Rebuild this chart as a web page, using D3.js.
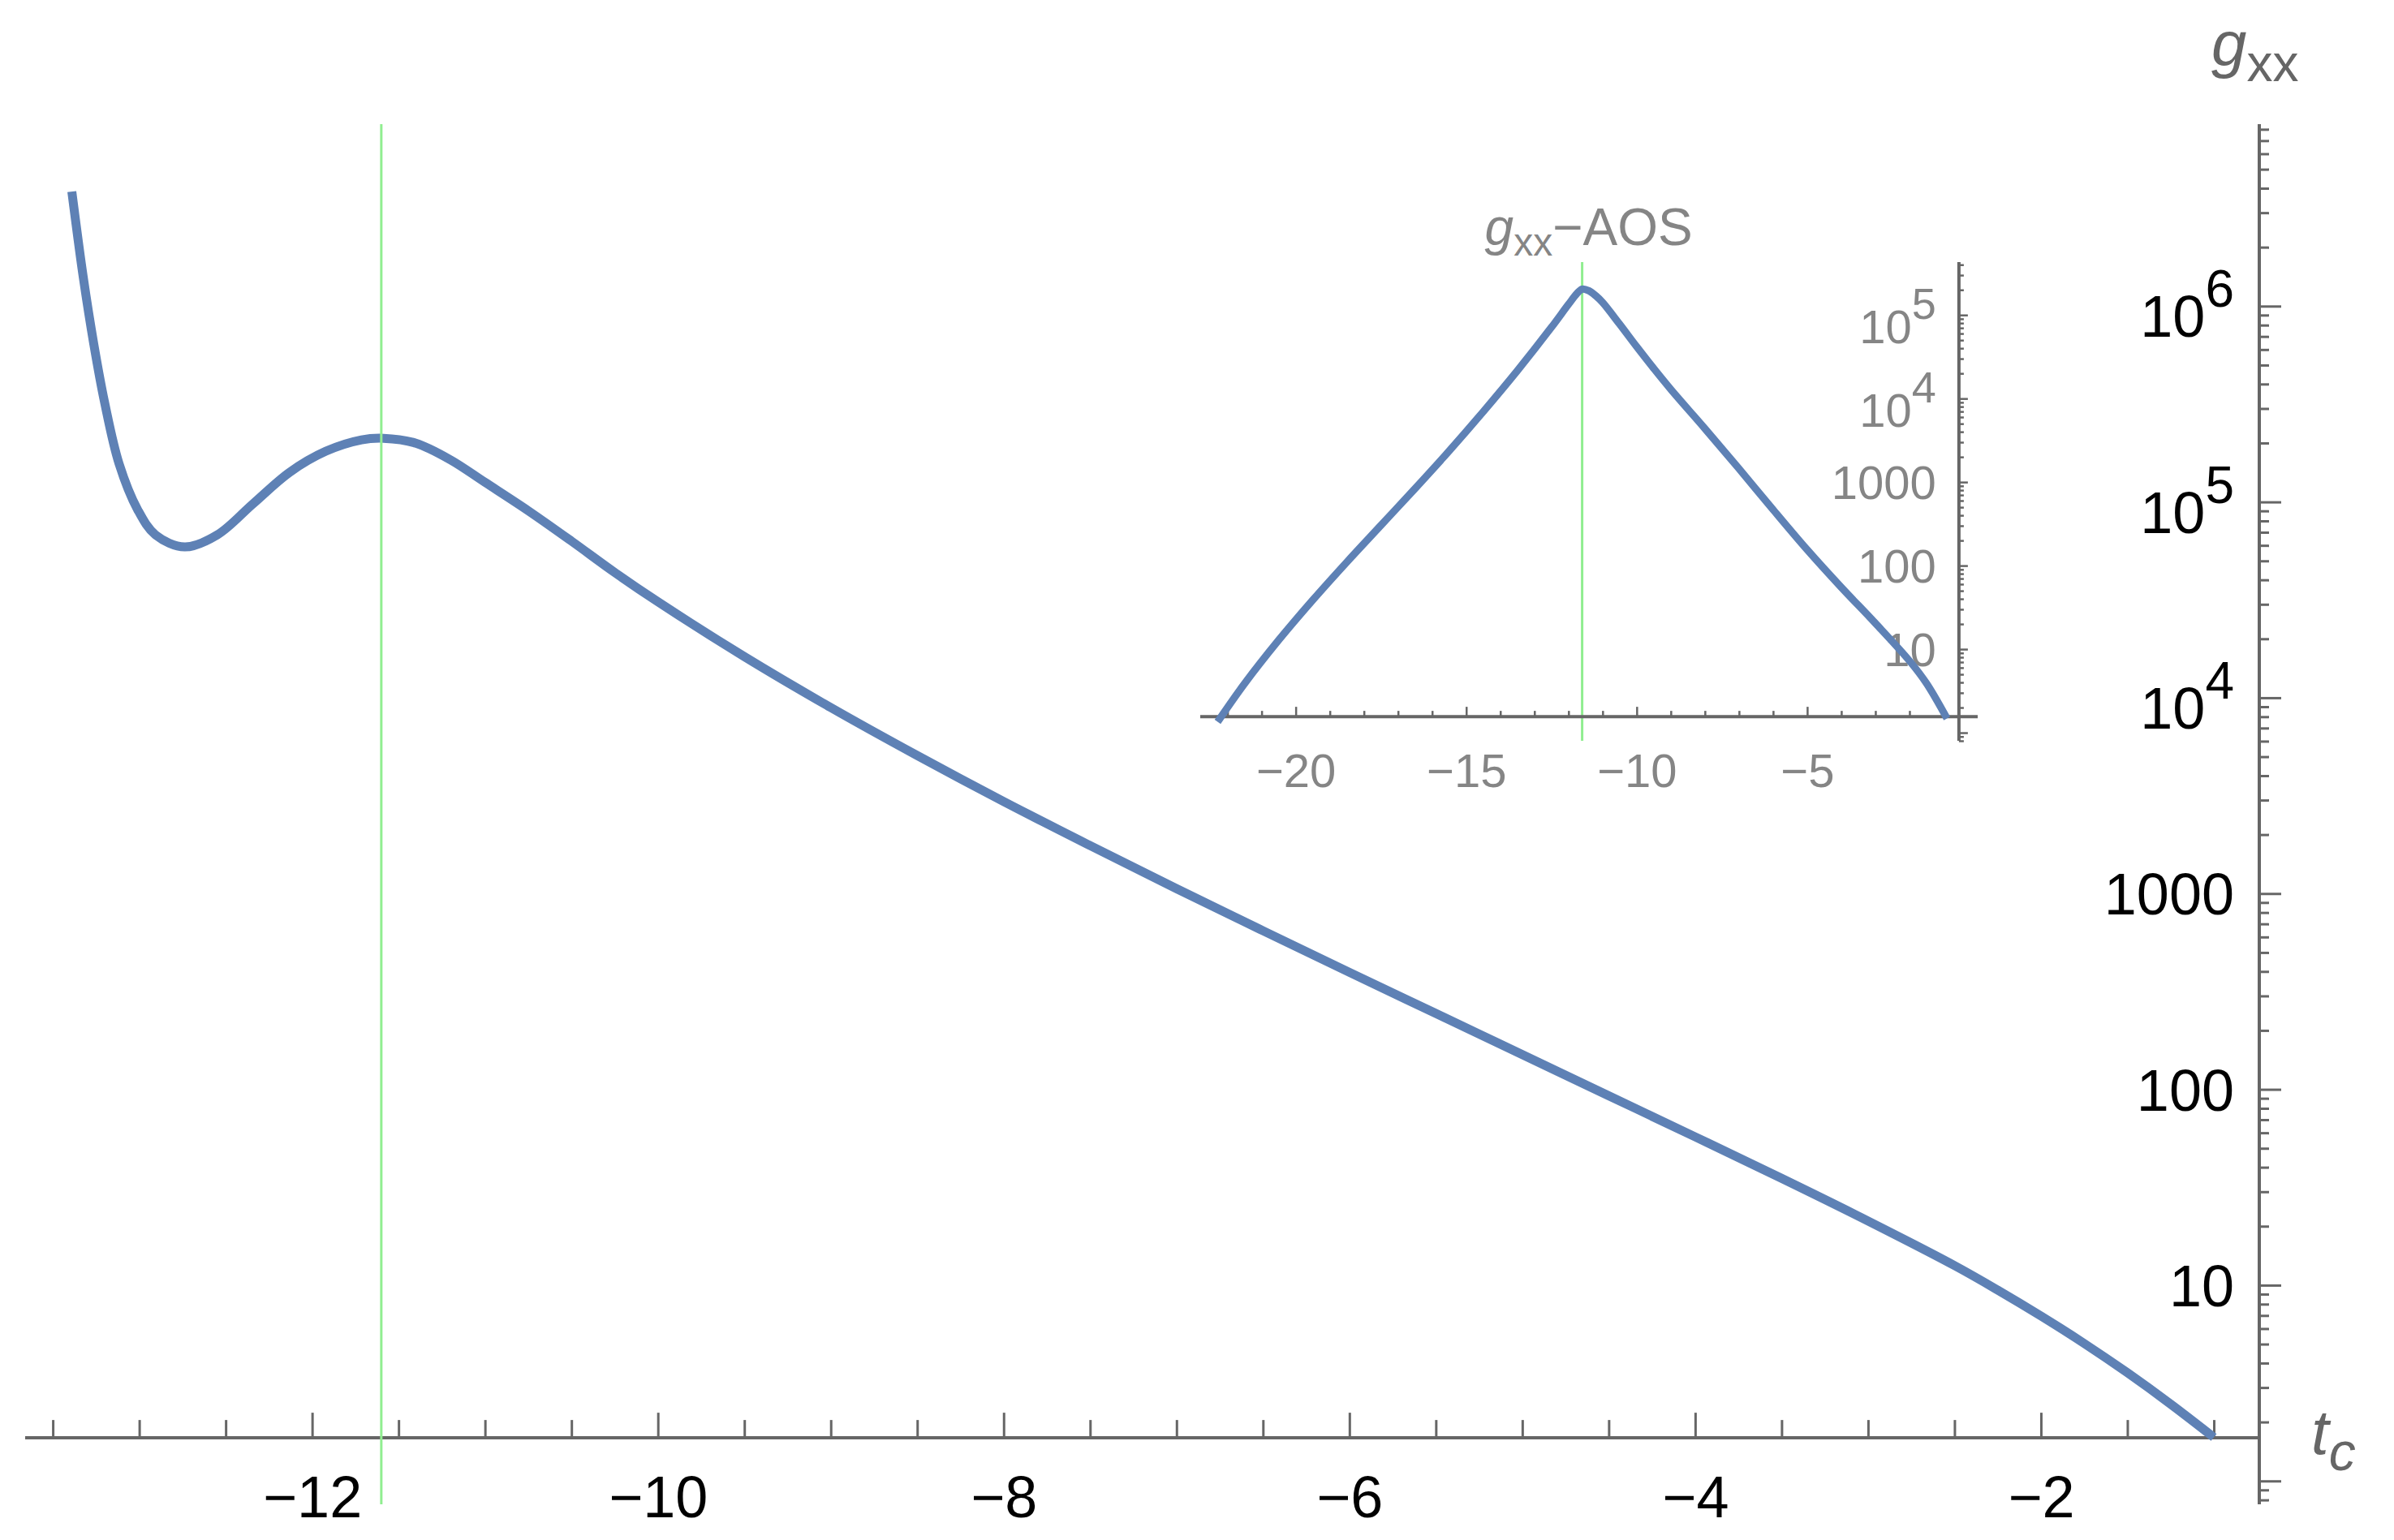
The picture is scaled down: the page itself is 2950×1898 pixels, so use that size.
<!DOCTYPE html>
<html>
<head>
<meta charset="utf-8">
<script src="https://cdn.jsdelivr.net/npm/d3@7"></script>
<style>
  body { margin: 0; background: #fff; }
  text { font-family: "Liberation Sans", Arial, sans-serif; }
</style>
</head>
<body>
<script>

// main curve g_xx(t_c)
var mainT = [-13.39, -13.324, -13.263, -13.202, -13.117, -13.009, -12.906, -12.737, -12.549, -12.343,
             -12.131, -11.92, -11.714, -11.587, -11.4, -11.2, -11.0, -10.75, -10.5, -10.25,
             -10.0, -9.5, -9.0, -8.5, -8.0, -7.5, -7.0, -6.5, -6.0, -5.5,
             -5.0, -4.5, -4.0, -3.5, -3.0, -2.5, -2.25, -2.0, -1.75, -1.5, -1.25, -1.0];
var mainG = [3.846e6, 1.406e6, 6.397e5, 3.273e5, 1.570e5, 9.12e4, 6.79e4, 5.89e4, 6.79e4, 9.77e4,
             1.416e5, 1.816e5, 2.075e5, 2.113e5, 1.995e5, 1.641e5, 1.259e5, 9.02e4, 6.31e4, 4.365e4,
             30900, 16220, 8913, 5070, 2951, 1758, 1059, 645.7, 395.9, 244.1,
             150.5, 92.8, 57.2, 35.1, 21.26, 12.59, 9.44, 6.96, 5.04, 3.57, 2.47, 1.67];

// inset curve g_xx-AOS
var insetT = [-22.29, -21.5, -20.5, -19.5, -18.5, -17.5, -16.5, -15.5, -14.5, -13.5,
              -12.5, -12.0, -11.75, -11.6, -11.4, -11.2, -11.0, -10.5, -10.0, -9.5,
              -9.0, -8.0, -7.0, -6.0, -5.0, -4.0, -3.0, -2.0, -1.5, -0.9];
var insetG = [1.349, 3.87, 12.82, 38.73, 110.4, 304.1, 837.5, 2360, 6966, 21530,
              71290, 134300, 181100, 204200, 195000, 169800, 141300, 77620, 41690, 22910,
              12880, 4365, 1445, 467.7, 154.9, 54.95, 20.42, 7.24, 3.89, 1.479];

var markT = -11.6;   // green marker line

var mainXMajor = [-12, -10, -8, -6, -4, -2];
var mainYMajor = [10, 100, 1000, 1e4, 1e5, 1e6];
var insetXMajor = [-20, -15, -10, -5];
var insetYMajor = [10, 100, 1000, 1e4, 1e5];

var width = 2950, height = 1898;
var axisColor = "#666", curveColor = "#5e81b5", green = "#90ee90";

var svg = d3.select("body").append("svg")
    .attr("width", width)
    .attr("height", height)
    .style("background", "#fff");

// ---------- main plot ----------
var x = d3.scaleLinear().domain([-13.66, -0.737]).range([31, 2784]);
var y = d3.scaleLog().domain([0.76, 8.5e6]).range([1854, 153]);
var xCross = 1.66;   // g value where the t axis sits
var yCrossT = -0.737;

var xa = y(xCross), ya = x(yCrossT);

// minor / major x ticks
var xMinor = d3.range(-13.5, -0.9, 0.5).filter(function(d) { return mainXMajor.indexOf(d) < 0; });

var gx = svg.append("g").attr("transform", "translate(0," + xa + ")");
gx.append("g").call(d3.axisBottom(x).tickValues(xMinor).tickSizeInner(-22).tickSizeOuter(0).tickFormat(""));
gx.append("g").call(d3.axisBottom(x).tickValues(mainXMajor).tickSizeInner(-31).tickSizeOuter(0)
    .tickPadding(47).tickFormat(function(d) { return "\u2212" + Math.abs(d); }));
gx.selectAll(".domain").remove();
gx.selectAll("line").attr("stroke", axisColor).attr("stroke-width", 3);
gx.selectAll("text").attr("font-size", 72).attr("fill", "#000")
    .attr("font-family", "Liberation Sans, Arial, sans-serif");
gx.append("line").attr("x1", x.range()[0]).attr("x2", ya)
    .attr("stroke", axisColor).attr("stroke-width", 4);

// y ticks
var yMinor = y.ticks().filter(function(d) { return mainYMajor.indexOf(d) < 0 && Math.abs(Math.log10(d) % 1) > 1e-6; });
var gy = svg.append("g").attr("transform", "translate(" + ya + ",0)");
gy.append("g").call(d3.axisLeft(y).tickValues(yMinor).tickSizeInner(-12).tickSizeOuter(0).tickFormat(""));
gy.append("g").call(d3.axisLeft(y).tickValues([1].concat(mainYMajor)).tickSizeInner(-27).tickSizeOuter(0).tickFormat(""));
gy.selectAll(".domain").remove();
gy.selectAll("line").attr("stroke", axisColor).attr("stroke-width", 3);
gy.append("line").attr("y1", y.range()[0]).attr("y2", y.range()[1])
    .attr("stroke", axisColor).attr("stroke-width", 4);

function logLabels(g, vals, ys, lx, fs, efs, plain, base, raise, color) {
  g.selectAll("text.lab").data(vals).join("text")
    .attr("class", "lab")
    .attr("x", lx)
    .attr("text-anchor", "end")
    .attr("font-size", fs)
    .attr("fill", color)
    .attr("y", function(d) { return ys(d) + (d >= 1e4 ? base : plain); })
    .each(function(d) {
      var s = d3.select(this);
      if (d >= 1e4) {
        s.append("tspan").text("10");
        s.append("tspan").attr("dy", -raise).attr("font-size", efs).text(Math.round(Math.log10(d)));
      } else {
        s.text(d);
      }
    });
}
logLabels(svg.append("g"), mainYMajor, y, ya - 31, 72, 64, 26, 38, 37, "#000");

// axis labels
var lg = svg.append("text").attr("x", ya - 59).attr("y", 81).attr("fill", axisColor);
lg.append("tspan").attr("font-style", "italic").attr("font-size", 78).text("g");
lg.append("tspan").attr("font-size", 64).attr("dy", 19).text("xx");

var lt = svg.append("text").attr("x", ya + 64).attr("y", 1792).attr("fill", axisColor);
lt.append("tspan").attr("font-style", "italic").attr("font-size", 78).text("t");
lt.append("tspan").attr("font-style", "italic").attr("font-size", 66).attr("dy", 20).text("c");

var line = d3.line()
    .x(function(d) { return x(d[0]); })
    .y(function(d) { return y(d[1]); })
    .curve(d3.curveCatmullRom.alpha(0.5));

svg.append("path")
    .datum(d3.zip(mainT, mainG))
    .attr("d", line)
    .attr("fill", "none")
    .attr("stroke", curveColor)
    .attr("stroke-width", 11)
    .attr("stroke-linejoin", "round");

svg.append("line")
    .attr("x1", x(markT)).attr("x2", x(markT))
    .attr("y1", y.range()[1]).attr("y2", y.range()[0])
    .attr("stroke", green).attr("stroke-width", 3);

// ---------- inset ----------
var xi = d3.scaleLinear().domain([-22.8, 0]).range([1479, 2437]);
var yi = d3.scaleLog().domain([0.8, 4.3e5]).range([913, 323]);
var xiCross = 1.56, yiCrossT = -0.55;
var xia = yi(xiCross), yia = xi(yiCrossT);

svg.append("line")
    .attr("x1", xi(markT)).attr("x2", xi(markT))
    .attr("y1", yi.range()[1]).attr("y2", yi.range()[0])
    .attr("stroke", green).attr("stroke-width", 3);

var xiMinor = d3.range(-22, 0, 1).filter(function(d) { return insetXMajor.indexOf(d) < 0; });
var gxi = svg.append("g").attr("transform", "translate(0," + xia + ")");
gxi.append("g").call(d3.axisBottom(xi).tickValues(xiMinor).tickSizeInner(-7).tickSizeOuter(0).tickFormat(""));
gxi.append("g").call(d3.axisBottom(xi).tickValues(insetXMajor).tickSizeInner(-12).tickSizeOuter(0)
    .tickPadding(46).tickFormat(function(d) { return "\u2212" + Math.abs(d); }));
gxi.selectAll(".domain").remove();
gxi.selectAll("line").attr("stroke", axisColor).attr("stroke-width", 2.5);
gxi.selectAll("text").attr("font-size", 58).attr("fill", "#858585")
    .attr("font-family", "Liberation Sans, Arial, sans-serif");
gxi.append("line").attr("x1", xi.range()[0]).attr("x2", xi.range()[1])
    .attr("stroke", axisColor).attr("stroke-width", 4);

var yiMinor = yi.ticks().filter(function(d) { return insetYMajor.indexOf(d) < 0 && Math.abs(Math.log10(d) % 1) > 1e-6; });
var gyi = svg.append("g").attr("transform", "translate(" + yia + ",0)");
gyi.append("g").call(d3.axisLeft(yi).tickValues(yiMinor).tickSizeInner(-6).tickSizeOuter(0).tickFormat(""));
gyi.append("g").call(d3.axisLeft(yi).tickValues([1].concat(insetYMajor)).tickSizeInner(-11).tickSizeOuter(0).tickFormat(""));
gyi.selectAll(".domain").remove();
gyi.selectAll("line").attr("stroke", axisColor).attr("stroke-width", 2.5);
gyi.append("line").attr("y1", yi.range()[0]).attr("y2", yi.range()[1])
    .attr("stroke", axisColor).attr("stroke-width", 4);

logLabels(svg.append("g"), insetYMajor, yi, yia - 28, 58, 54, 21, 35, 30, "#858585");

var iline = d3.line()
    .x(function(d) { return xi(d[0]); })
    .y(function(d) { return yi(d[1]); })
    .curve(d3.curveCatmullRom.alpha(0.5));

svg.append("path")
    .datum(d3.zip(insetT, insetG))
    .attr("d", iline)
    .attr("fill", "none")
    .attr("stroke", curveColor)
    .attr("stroke-width", 9)
    .attr("stroke-linejoin", "round");

// inset title
var tt = svg.append("text").attr("x", xi(markT) + 8).attr("y", 302)
    .attr("text-anchor", "middle").attr("fill", "#858585").attr("font-size", 64);
tt.append("tspan").attr("font-style", "italic").text("g");
tt.append("tspan").attr("font-size", 48).attr("dy", 13).text("xx");
tt.append("tspan").attr("dy", -13).text("\u2212AOS");

</script>
</body>
</html>
